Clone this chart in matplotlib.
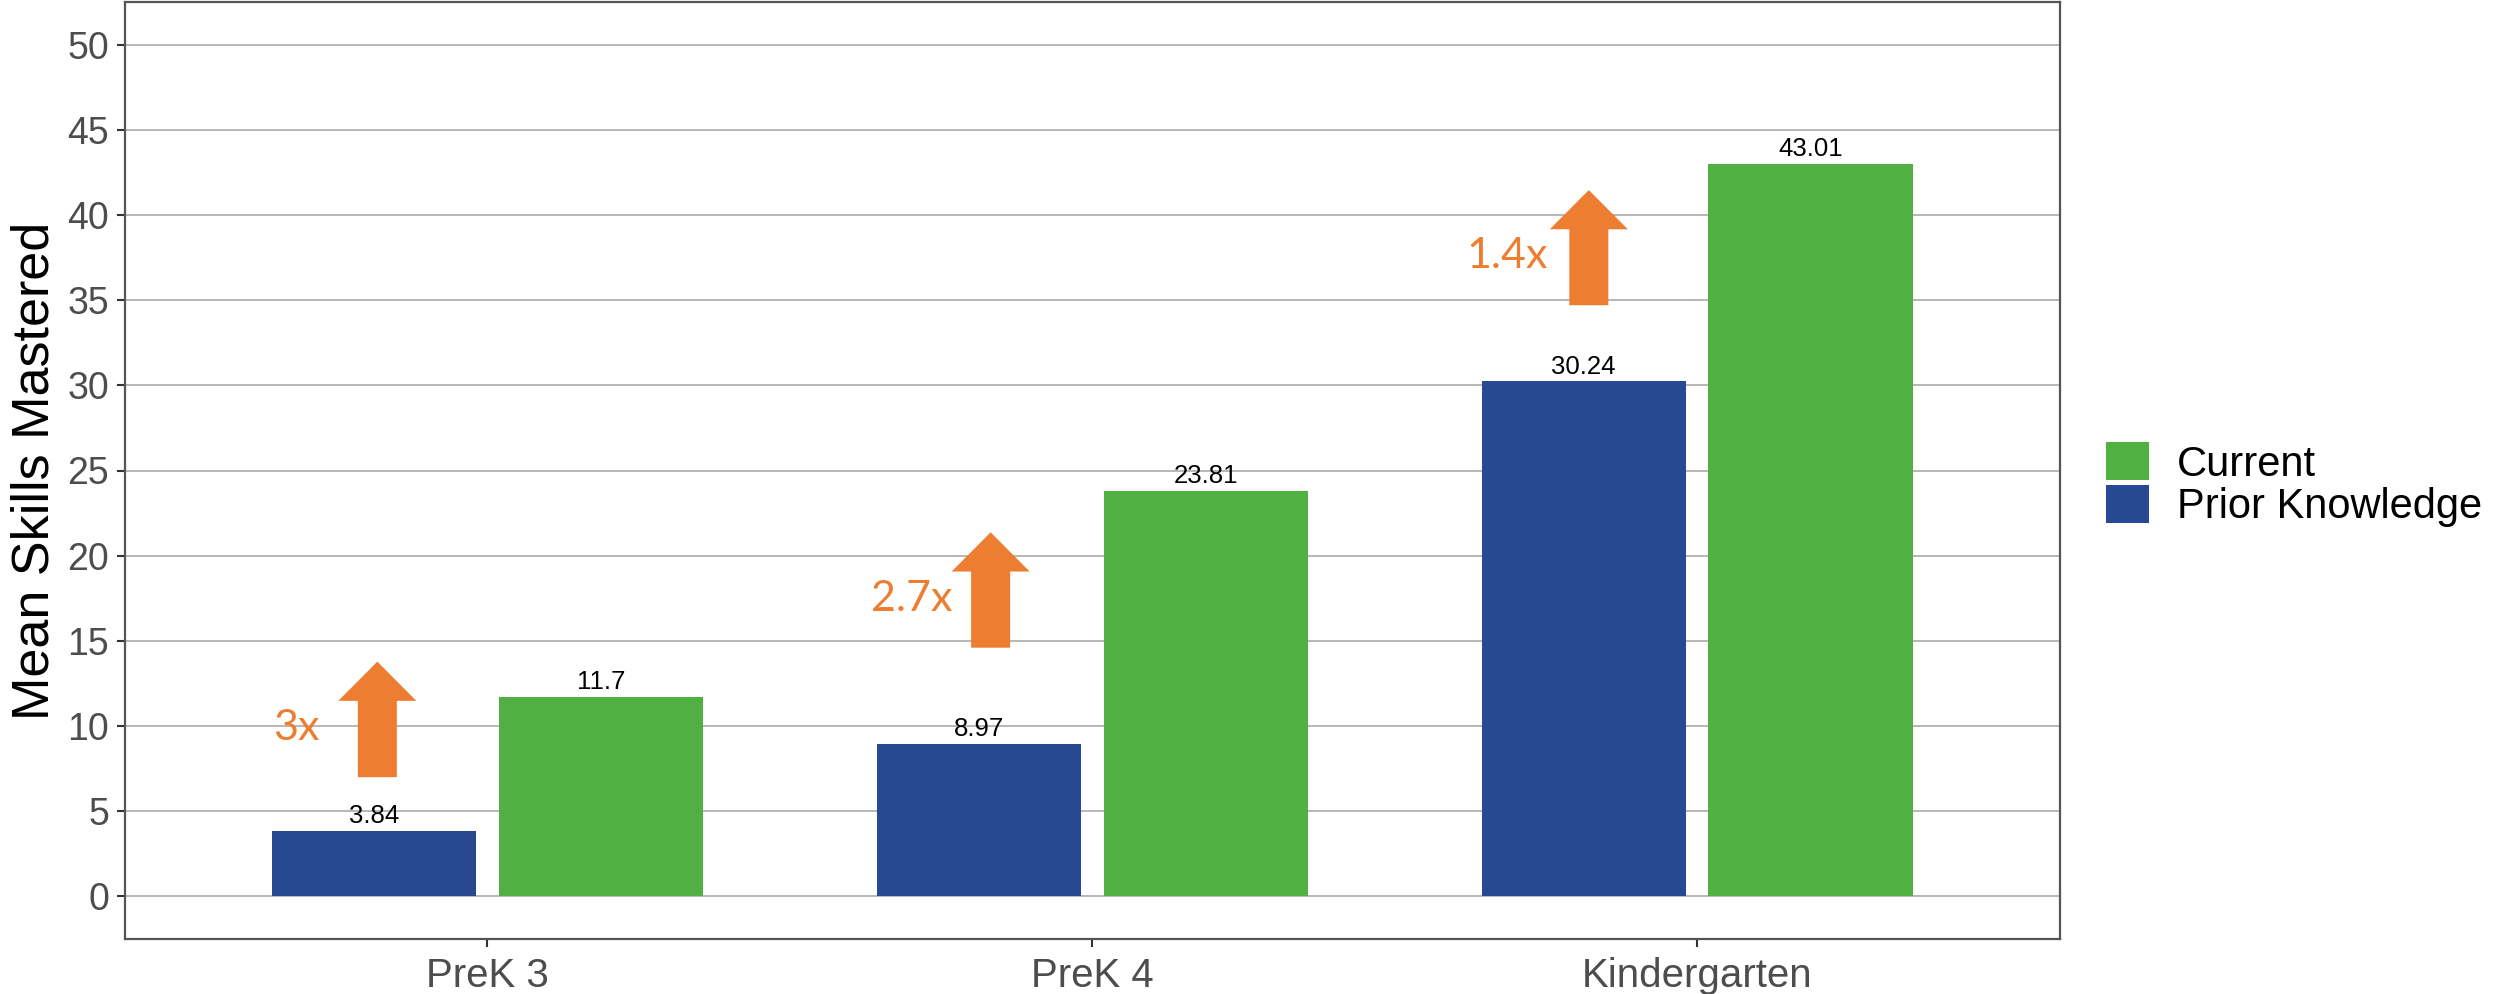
import matplotlib
matplotlib.use("Agg")
import matplotlib.pyplot as plt
from matplotlib.patches import FancyArrow, Patch
import numpy as np

# ---- data ----
categories = ["PreK 3", "PreK 4", "Kindergarten"]
prior_knowledge = [3.84, 8.97, 30.24]
current = [11.7, 23.81, 43.01]
series_names = ["Current", "Prior Knowledge"]
multiplier_labels = ["3x", "2.7x", "1.4x"]
arrow_bottoms = [7.0, 14.6, 34.7]
arrow_tops = [13.78, 21.37, 41.46]
y_ticks = [0, 5, 10, 15, 20, 25, 30, 35, 40, 45, 50]

# ---- style ----
BLUE = "#294892"
GREEN = "#50B041"
ORANGE = "#ED7D31"
plt.rcParams['font.family'] = ['Liberation Sans', 'DejaVu Sans']

fig = plt.figure(figsize=(24.96, 9.94), dpi=100)
ax = fig.add_axes([124.5 / 2496, 1 - 939 / 994, (2060 - 124.5) / 2496, (939 - 2) / 994])

x = np.arange(len(categories))
off = 0.1875
w = 0.3375
ax.bar(x - off, prior_knowledge, width=w, color=BLUE, zorder=3, label=series_names[1])
ax.bar(x + off, current, width=w, color=GREEN, zorder=3, label=series_names[0])

for xi, v in zip(x - off, prior_knowledge):
    ax.text(xi, v + 0.45, f"{v:g}", ha="center", va="baseline", fontsize=18.5, color="black", zorder=4)
for xi, v in zip(x + off, current):
    ax.text(xi, v + 0.45, f"{v:g}", ha="center", va="baseline", fontsize=18.5, color="black", zorder=4)

arrow_x_offs = [-0.182, -0.168, -0.179]
label_gaps = [0.096, 0.064, 0.068]
for xi, b, t, lab, ao, lg in zip(x, arrow_bottoms, arrow_tops, multiplier_labels,
                                 arrow_x_offs, label_gaps):
    ax.add_patch(FancyArrow(xi + ao, b, 0, t - b, width=0.0645, head_width=0.129,
                            head_length=2.3, length_includes_head=True, color=ORANGE,
                            linewidth=0, zorder=4))
    ax.text(xi + ao - lg, (b + t) / 2 - 0.5, lab, ha="right", va="center",
            fontsize=31, color=ORANGE, family=["Lato", "DejaVu Sans"], zorder=4)

ax.set_xlim(-0.6, 2.6)
ax.set_ylim(-2.5, 52.5)
ax.set_yticks(y_ticks)
ax.set_xticks(x)
ax.set_xticklabels(categories)
ax.yaxis.grid(True, color="#A3A3A3", linewidth=1.1, zorder=0)
ax.xaxis.grid(False)
for s in ax.spines.values():
    s.set_color("#555555")
    s.set_linewidth(1.6)
ax.tick_params(axis="both", colors="#333333", length=6, width=1.5,
               labelcolor="#4D4D4D")
ax.tick_params(axis="y", pad=5, labelsize=27)
ax.tick_params(axis="x", pad=7, labelsize=29)
ax.set_ylabel("Mean Skills Mastered", fontsize=37.5, color="black", labelpad=6)

handles = [Patch(facecolor=GREEN, edgecolor="none"), Patch(facecolor=BLUE, edgecolor="none")]
leg = ax.legend(handles, series_names, loc="center left", bbox_to_anchor=(1.0238, 0.485),
                frameon=False, fontsize=30, handlelength=1.03, handleheight=1.03,
                handletextpad=0.68, labelspacing=0.0, borderaxespad=0, borderpad=0)

fig.savefig("out.png", dpi=100)
